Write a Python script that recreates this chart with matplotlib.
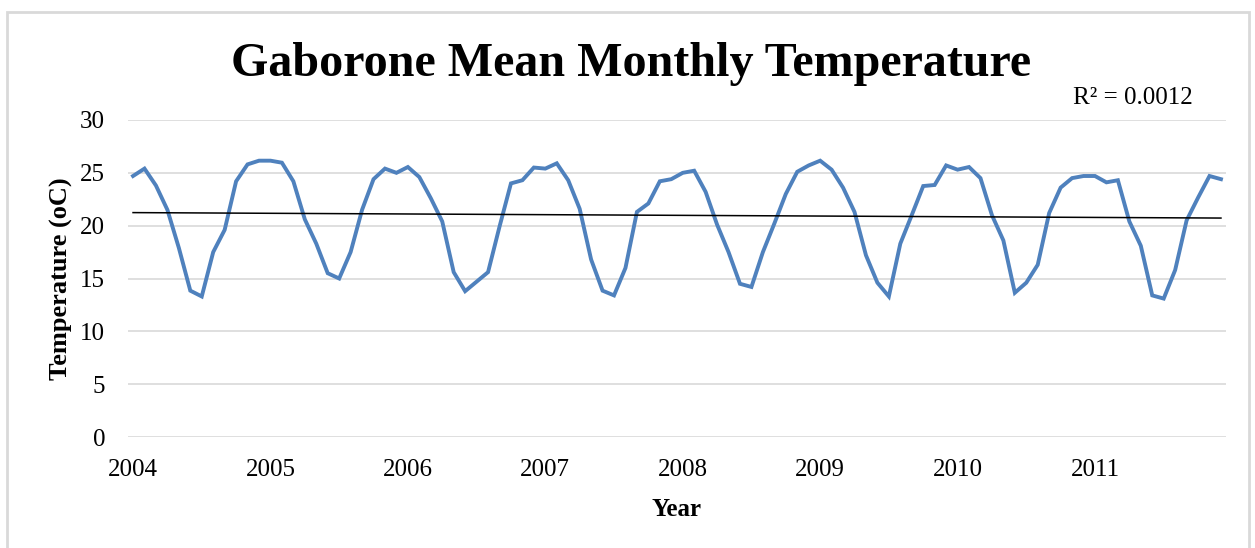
import numpy as np
import matplotlib
matplotlib.use("Agg")
import matplotlib.pyplot as plt
from matplotlib.patches import Rectangle

# Monthly mean temperature, Jan 2004 - Dec 2011
temp_2004 = [24.7, 25.4, 23.8, 21.5, 17.9, 13.85, 13.3, 17.5, 19.6, 24.2, 25.8, 26.15]
temp_2005 = [26.15, 25.96, 24.2, 20.6, 18.3, 15.5, 15.0, 17.5, 21.5, 24.4, 25.4, 25.0]
temp_2006 = [25.55, 24.6, 22.6, 20.4, 15.6, 13.8, 14.7, 15.6, 19.9, 24.0, 24.3, 25.5]
temp_2007 = [25.4, 25.9, 24.3, 21.6, 16.8, 13.85, 13.4, 16.0, 21.3, 22.1, 24.2, 24.4]
temp_2008 = [25.0, 25.2, 23.2, 20.1, 17.5, 14.5, 14.2, 17.5, 20.2, 23.0, 25.1, 25.7]
temp_2009 = [26.15, 25.3, 23.6, 21.3, 17.2, 14.6, 13.3, 18.3, 21.0, 23.75, 23.85, 25.7]
temp_2010 = [25.3, 25.55, 24.5, 21.0, 18.6, 13.65, 14.6, 16.3, 21.2, 23.6, 24.5, 24.7]
temp_2011 = [24.7, 24.1, 24.3, 20.4, 18.1, 13.4, 13.1, 15.8, 20.5, 22.65, 24.7, 24.4]

years = ["2004", "2005", "2006", "2007", "2008", "2009", "2010", "2011"]
r2_label = "R² = 0.0012"

temps = np.array(temp_2004 + temp_2005 + temp_2006 + temp_2007 +
                 temp_2008 + temp_2009 + temp_2010 + temp_2011)
months = np.arange(len(temps))

plt.rcParams["font.family"] = ["Liberation Serif", "DejaVu Serif"]

fig = plt.figure(figsize=(12.55, 5.48), dpi=100)
W, H = 1255, 548
ax = fig.add_axes([128 / W, 1 - 437 / H, (1226 - 128) / W, (437 - 120) / H])

# light frame around the chart area
fig.patches.append(Rectangle((7 / W, -0.05), (1249 - 7) / W, 1.05 - 12 / H,
                             transform=fig.transFigure, fill=False,
                             edgecolor="#D9D9D9", linewidth=2))

ax.plot(months, temps, color="#4F81BD", linewidth=2.8, solid_joinstyle="miter")

# linear trendline
slope, intercept = np.polyfit(months, temps, 1)
ax.plot(months, slope * months + intercept, color="black", linewidth=1.1)

ax.set_xlim(-0.44, len(temps) - 1 + 0.44)
ax.set_ylim(0, 30)
ax.set_yticks(range(0, 31, 5))
ax.set_xticks(range(0, len(temps), 12))
ax.set_xticklabels(years)
ax.grid(axis="y", color="#D9D9D9", linewidth=1.2)
ax.set_axisbelow(True)
for s in ax.spines.values():
    s.set_visible(False)
ax.tick_params(axis="both", length=0, labelsize=18)
ax.tick_params(axis="y", pad=16.5)
ax.tick_params(axis="x", pad=16)

ax.set_xlabel("Year", fontsize=18, fontweight="bold", labelpad=12)
ax.set_ylabel("Temperature (oC)", fontsize=19, fontweight="bold", labelpad=5)

fig.text(631 / W, 1 - 64 / H, "Gaborone Mean Monthly Temperature",
         ha="center", va="center", fontsize=34.6, fontweight="bold")
fig.text(1193 / W, 1 - 98 / H, r2_label, ha="right", va="center", fontsize=18)

fig.savefig("out.png", dpi=100)
